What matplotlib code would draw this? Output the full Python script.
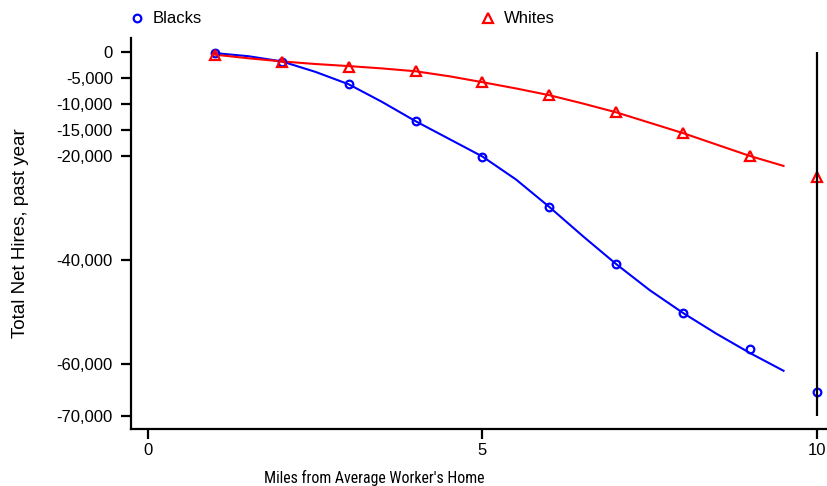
import matplotlib.pyplot as plt
from matplotlib import font_manager
import numpy as np

plt.rcParams['font.family'] = ['Liberation Sans', 'DejaVu Sans']

# observed net hires by distance band
miles = [1, 2, 3, 4, 5, 6, 7, 8, 9, 10]
blacks = [-200, -1900, -6200, -13300, -20100, -29800, -40800, -50200, -57100, -65400]
whites = [-600, -1900, -2800, -3700, -5800, -8300, -11600, -15600, -20000, -24000]

# smoothed fits over 1 to 9.5 miles
fit_miles = [1, 1.5, 2, 2.5, 3, 3.5, 4, 4.5, 5, 5.5, 6, 6.5, 7, 7.5, 8, 8.5, 9, 9.5]
blacks_fit = [-200, -800, -1800, -3800, -6200, -9600, -13300, -16700, -20100,
              -24500, -29800, -35400, -40800, -45800, -50200, -54200, -57900, -61300]
whites_fit = [-500, -1200, -1800, -2300, -2700, -3150, -3700, -4650, -5800,
              -7000, -8300, -9900, -11600, -13600, -15600, -17800, -20000, -21900]

yticks = [0, -5000, -10000, -15000, -20000, -40000, -60000, -70000]

# narrow face for the x label: a real narrow family if there is one,
# otherwise DejaVu Sans Condensed
installed = {f.name for f in font_manager.fontManager.ttflist}
xlab_font = None
for name in ['Liberation Sans Narrow', 'Arial Narrow', 'Roboto Condensed',
             'Open Sans Condensed']:
    if name in installed:
        xlab_font = font_manager.FontProperties(family=name, size=12)
        break
if xlab_font is None:
    xlab_font = font_manager.FontProperties(family='DejaVu Sans',
                                            stretch='condensed', size=10)

fig = plt.figure(figsize=(8.27, 4.86), dpi=100)
ax = fig.add_axes([0.1584, 0.1173, 0.8416, 0.8045])

blue = '#0000ff'
red = '#ff0000'

ax.plot(fit_miles, blacks_fit, color=blue, lw=1.5)
ax.plot(fit_miles, whites_fit, color=red, lw=1.5)
pb, = ax.plot(miles, blacks, ls='none', marker='o', ms=5.5, mfc='none',
              mec=blue, mew=1.6, label='Blacks')
pw, = ax.plot(miles, whites, ls='none', marker='^', ms=6.5, mfc='none',
              mec=red, mew=1.6, label='Whites')

ax.vlines(10, -70000, 0, color='black', lw=1.6)

ax.set_xlim(-0.254, 10.15)
ax.set_ylim(-72500, 2700)
ax.set_xticks([0, 5, 10])
ax.set_yticks(yticks)
ax.set_yticklabels([f'{v:,}' for v in yticks])

for s in ['top', 'right']:
    ax.spines[s].set_visible(False)
for s in ['left', 'bottom']:
    ax.spines[s].set_linewidth(1.6)
ax.tick_params(axis='both', width=1.6, length=7, labelsize=12)
ax.tick_params(axis='y', pad=6)
ax.tick_params(axis='x', pad=3)

ax.set_ylabel('Total Net Hires, past year', fontsize=13.5)
ax.yaxis.set_label_coords(-0.146, 0.5)

xlab = ax.set_xlabel("Miles from Average Worker's Home", fontproperties=xlab_font)
ax.xaxis.set_label_coords(0.35, -0.104)

# size the x label so it runs about 220 px wide
fig.canvas.draw()
w = xlab.get_window_extent().width
xlab.set_fontsize(xlab.get_fontsize() * 220 / w)

fig.legend(handles=[pb, pw], loc='center left', bbox_to_anchor=(0.147, 0.961),
           ncol=2, frameon=False, fontsize=12, handlelength=0.8,
           handletextpad=0.55, columnspacing=16.8, borderpad=0)

fig.savefig('out.png', dpi=100)
